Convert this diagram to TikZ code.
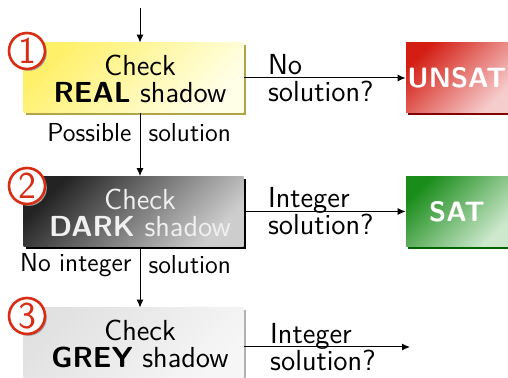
\documentclass[tikz,border=0pt]{standalone}
\usetikzlibrary{shadows,arrows.meta}

\definecolor{realtop}{RGB}{255,240,105}
\definecolor{realbot}{RGB}{255,255,232}
\definecolor{realshade}{RGB}{175,165,70}
\definecolor{darktop}{RGB}{35,35,35}
\definecolor{darkbot}{RGB}{205,205,205}
\definecolor{greytop}{RGB}{225,225,225}
\definecolor{greybot}{RGB}{246,246,246}
\definecolor{unsattop}{RGB}{212,30,20}
\definecolor{unsatbot}{RGB}{246,205,205}
\definecolor{unsatshade}{RGB}{130,0,0}
\definecolor{sattop}{RGB}{25,140,25}
\definecolor{satbot}{RGB}{205,232,205}
\definecolor{satshade}{RGB}{0,100,0}
\definecolor{numred}{RGB}{215,45,20}

\tikzset{
  stepbox/.style={minimum width=110pt, minimum height=35pt, inner sep=0pt},
  steptext/.style={align=center, inner sep=0pt,
    font=\sffamily\fontsize{14.5}{13.5}\selectfont},
  resbox/.style={minimum width=51pt, minimum height=35pt, inner sep=0pt,
    text=white, font=\sffamily\bfseries\fontsize{14}{16}\selectfont},
  boxshadow/.style={drop shadow={shadow xshift=1.2pt, shadow yshift=-1.2pt,
    fill=#1, opacity=1}},
  numcirc/.style={circle, draw=numred, line width=1.3pt, fill=white,
    text=numred, minimum size=18pt, inner sep=0pt,
    font=\sffamily\fontsize{19}{19}\selectfont,
    drop shadow={shadow xshift=0.9pt, shadow yshift=-0.9pt, fill=black!35, opacity=1}},
  flow/.style={-{Latex[length=4pt,width=3.5pt]}, line width=0.5pt},
  edgetext/.style={align=left, inner sep=0pt, xshift=-2pt,
    font=\sffamily\fontsize{14.5}{13.5}\selectfont},
}

\begin{document}
\begin{tikzpicture}[x=0.5pt, y=-0.5pt, font=\sffamily\fontsize{13}{14}\selectfont]
\useasboundingbox (0,0) rectangle (508,378);

% the three checks
\node[stepbox, boxshadow=realshade, top color=realtop, bottom color=realbot,
      shading angle=45] (real) at (133.5,78) {};
\node[steptext] (realtext) at (140,79) {Check\\\textbf{REAL} shadow};
\node[stepbox, boxshadow=black, top color=darktop, bottom color=darkbot,
      shading angle=45] (dark) at (133.5,211.5) {};
\node[steptext, text=white!94!black] (darktext) at (140,212.5)
      {Check\\\textbf{DARK} shadow};
\node[stepbox, boxshadow=black!30, top color=greytop, bottom color=greybot,
      shading angle=45] (grey) at (133.5,343) {};
\node[steptext] (greytext) at (140,344) {Check\\\textbf{GREY} shadow};

% outcomes
\node[resbox, boxshadow=unsatshade, top color=unsattop, bottom color=unsatbot,
      shading angle=45] (unsat) at (457,78) {UNSAT};
\node[resbox, boxshadow=satshade, top color=sattop, bottom color=satbot,
      shading angle=45] (sat) at (457,211.5) {SAT};

% step numbers
\node[numcirc] (n1) at (27,51) {1};
\node[numcirc] (n2) at (27,186) {2};
\node[numcirc] (n3) at (27,316) {3};

% vertical flow
\coordinate (start) at (140,8);
\draw[flow] (start) -- (real.north -| start);
\draw[flow] (real.south -| start) -- (dark.north -| start)
  node[pos=0.3, left=4pt, inner sep=0pt] {Possible}
  node[pos=0.3, right=4pt, inner sep=0pt] {solution};
\draw[flow] (dark.south -| start) -- (grey.north -| start)
  node[pos=0.3, left=4pt, inner sep=0pt] {No integer}
  node[pos=0.3, right=4pt, inner sep=0pt] {solution};

% horizontal flow
\draw[flow] (real.east) -- (unsat.west)
  node[midway, edgetext] {No\\solution?};
\draw[flow] (dark.east) -- (sat.west)
  node[midway, edgetext] {Integer\\solution?};
\coordinate (open) at (410,347);
\draw[flow] (grey.east |- open) -- (open)
  node[midway, edgetext] {Integer\\solution?};
\end{tikzpicture}
\end{document}
